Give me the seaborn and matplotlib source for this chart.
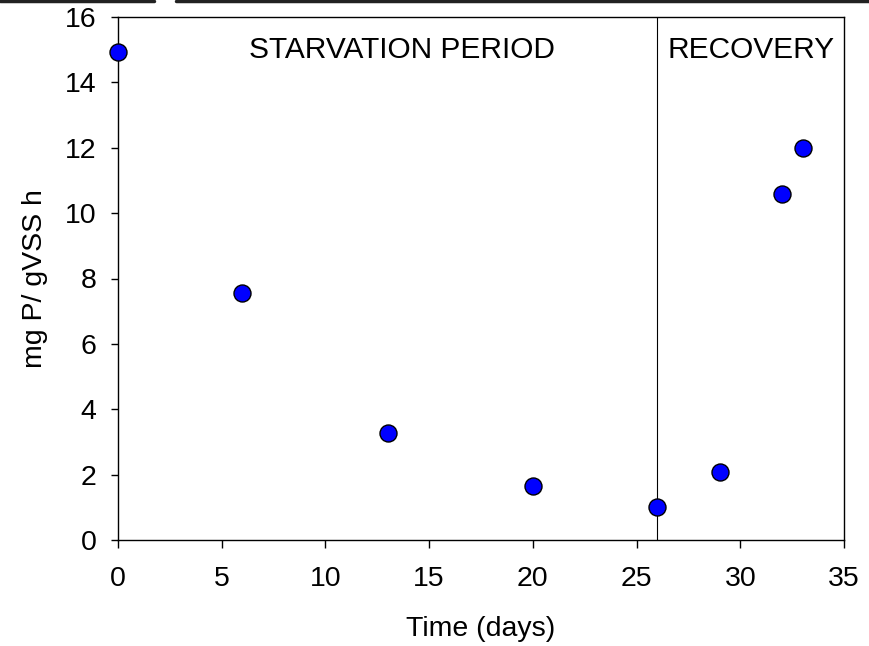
import matplotlib
matplotlib.use("Agg")
import matplotlib.pyplot as plt
import seaborn as sns
import pandas as pd
from matplotlib.lines import Line2D

sns.set_style("ticks")
plt.rcParams['font.family'] = ['Liberation Sans', 'DejaVu Sans']

days = [0, 6, 13, 20, 26, 29, 32, 33]
rate = [14.92, 7.57, 3.26, 1.65, 1.01, 2.07, 10.58, 12.0]
xticks = [0, 5, 10, 15, 20, 25, 30, 35]
yticks = [0, 2, 4, 6, 8, 10, 12, 14, 16]

df = pd.DataFrame({"Time (days)": days, "rate": rate})

fig = plt.figure(figsize=(8.7, 6.46), dpi=100)
ax = fig.add_axes([118/870, 1-540/646, (844-118)/870, (540-17)/646])

ax.axvline(26, color="black", lw=0.8, zorder=1)
sns.scatterplot(data=df, x="Time (days)", y="rate", ax=ax, s=150, color="#0000ff",
                edgecolor="black", linewidth=1.0, zorder=3, clip_on=False)

ax.set_xlim(0, 35)
ax.set_ylim(0, 16)
ax.set_xticks(xticks)
ax.set_yticks(yticks)
ax.tick_params(direction="out", length=5.4, width=1, labelsize=20.5, colors="black")
ax.tick_params(axis="x", pad=13)
ax.tick_params(axis="y", pad=10)
for s in ax.spines.values():
    s.set_linewidth(1.0)
    s.set_color("black")
ax.set_xlabel("Time (days)", fontsize=20.5, labelpad=17.5, color="black")
ax.set_ylabel("mg P/ gVSS h", fontsize=20.5, labelpad=12, color="black")

ax.text(13.7, 15.0, "STARVATION PERIOD", fontsize=21.5, ha="center", va="center", color="black")
ax.text(30.5, 15.0, "RECOVERY", fontsize=21.5, ha="center", va="center", color="black")

# top border artifact
fig.add_artist(Line2D([0, 154/870], [1-1/646, 1-1/646], color="#222222", lw=2.5, transform=fig.transFigure))
fig.add_artist(Line2D([176/870, 1], [1-1/646, 1-1/646], color="#222222", lw=2.5, transform=fig.transFigure))

fig.savefig("out.png", dpi=100)
